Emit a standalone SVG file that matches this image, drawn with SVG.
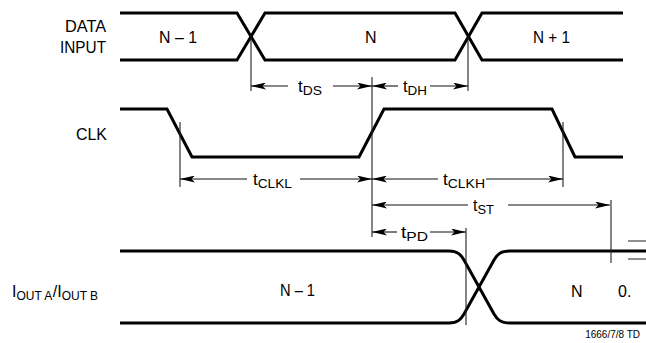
<svg xmlns="http://www.w3.org/2000/svg" width="646" height="343" viewBox="0 0 646 343">
<defs>
<style>
text{font-family:"Liberation Sans",Arial,sans-serif;fill:#000}
.lbl{font-size:16px}
.sub{font-size:13px}
.sub2{font-size:12px}
.sig{fill:none;stroke:#000;stroke-width:3;stroke-linejoin:miter}
.thin{fill:none;stroke:#222;stroke-width:1.1}
.dim{fill:none;stroke:#111;stroke-width:1.1}
</style>
<marker id="ah" viewBox="0 0 15 7" refX="15" refY="3.5" markerWidth="15" markerHeight="7" markerUnits="userSpaceOnUse" orient="auto-start-reverse">
<path d="M0,0 L15,3.5 L0,7 L3.5,3.5 Z" fill="#000"/>
</marker>
</defs>
<rect width="646" height="343" fill="#fff"/>

<g id="data-input">
<text class="lbl" x="65" y="32" textLength="41" lengthAdjust="spacingAndGlyphs">DATA</text>
<text class="lbl" x="60" y="53" textLength="46" lengthAdjust="spacingAndGlyphs">INPUT</text>
<path class="sig" d="M120,13 H237 L265,60 H455 L482,13 H623"/>
<path class="sig" d="M120,60 H237 L265,13 H455 L482,60 H623"/>
<text class="lbl" x="159" y="43" textLength="38" lengthAdjust="spacingAndGlyphs">N – 1</text>
<text class="lbl" x="365" y="43">N</text>
<text class="lbl" x="533" y="43" textLength="37" lengthAdjust="spacingAndGlyphs">N + 1</text>
</g>

<g id="clk">
<text class="lbl" x="76" y="140" textLength="31" lengthAdjust="spacingAndGlyphs">CLK</text>
<path class="sig" d="M120,109 H167 L192,157 H359 L384,109 H552 L575,157 H623"/>
</g>

<g id="output">
<text x="12" y="297"><tspan class="lbl">I</tspan><tspan class="sub2" dy="3">OUT A</tspan><tspan class="lbl" dy="-3" dx="0.5">/I</tspan><tspan class="sub2" dy="3">OUT B</tspan></text>
<path class="sig" d="M120,251 H449 C458,251 461,255 464,260 L494,314 C497,319 500,323 510,323 H646"/>
<path class="sig" d="M120,323 H449 C458,323 461,319 464,314 L494,260 C497,255 500,251 510,251 H646"/>
<text class="lbl" x="280" y="296" textLength="35" lengthAdjust="spacingAndGlyphs">N – 1</text>
<text class="lbl" x="571" y="297">N</text>
<text class="lbl" x="618" y="297">0.</text>
<path class="thin" d="M628,241 H646 M628,259 H646"/>
<text x="640" y="338" font-size="10" text-anchor="end">1666/7/8 TD</text>
</g>

<g id="connectors">
<path class="thin" d="M251,36 V91 M468,36 V91 M372,77 V237 M180,122 V187 M563,122 V187 M611,200 V263 M466,228 V325"/>
<path class="dim" d="M288,86 H251" marker-end="url(#ah)"/>
<path class="dim" d="M333,86 H372" marker-end="url(#ah)"/>
<path class="dim" d="M398,86 H372" marker-end="url(#ah)"/>
<path class="dim" d="M430,86 H468" marker-end="url(#ah)"/>
<path class="dim" d="M247,179 H180" marker-end="url(#ah)"/>
<path class="dim" d="M300,179 H372" marker-end="url(#ah)"/>
<path class="dim" d="M438,179 H372" marker-end="url(#ah)"/>
<path class="dim" d="M486,179 H563" marker-end="url(#ah)"/>
<path class="dim" d="M468,205 H372" marker-end="url(#ah)"/>
<path class="dim" d="M508,205 H610" marker-end="url(#ah)"/>
<path class="dim" d="M397,232 H372" marker-end="url(#ah)"/>
<path class="dim" d="M430,232 H466" marker-end="url(#ah)"/>
</g>

<g id="labels">
<text x="298" y="92" textLength="24" lengthAdjust="spacingAndGlyphs"><tspan class="lbl">t</tspan><tspan class="sub" dy="3">DS</tspan></text>
<text x="403" y="92" textLength="24" lengthAdjust="spacingAndGlyphs"><tspan class="lbl">t</tspan><tspan class="sub" dy="3">DH</tspan></text>
<text x="253" y="185" textLength="39" lengthAdjust="spacingAndGlyphs"><tspan class="lbl">t</tspan><tspan class="sub" dy="3">CLKL</tspan></text>
<text x="443" y="185" textLength="42" lengthAdjust="spacingAndGlyphs"><tspan class="lbl">t</tspan><tspan class="sub" dy="3">CLKH</tspan></text>
<text x="473" y="211" textLength="21" lengthAdjust="spacingAndGlyphs"><tspan class="lbl">t</tspan><tspan class="sub" dy="3">ST</tspan></text>
<text x="401" y="238" textLength="27" lengthAdjust="spacingAndGlyphs"><tspan class="lbl">t</tspan><tspan class="sub" dy="3">PD</tspan></text>
</g>
</svg>
